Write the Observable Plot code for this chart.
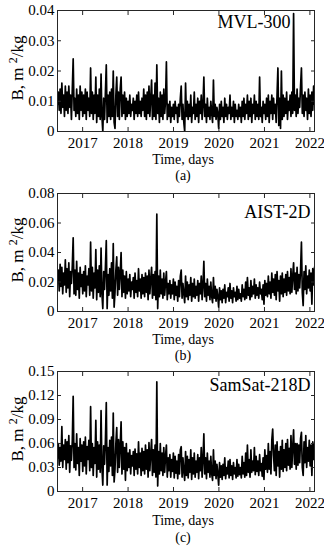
<!DOCTYPE html>
<html><head><meta charset="utf-8">
<script src="https://cdn.jsdelivr.net/npm/d3@7"></script>
<script src="https://cdn.jsdelivr.net/npm/@observablehq/plot@0.6"></script>
<style>
body{margin:0;background:#fff;width:324px;height:550px;position:relative;overflow:hidden;font-family:"Liberation Serif","Times New Roman",serif;color:#000}
.panel{position:absolute;left:0}
.lab{position:absolute;font-size:14px;white-space:nowrap;transform:translate(-50%,-50%);line-height:1}
.ylab{position:absolute;font-size:17px;white-space:nowrap;transform:translate(-50%,-50%) rotate(-90deg);line-height:1}
.ylab sup{font-size:12px;vertical-align:0.5em;line-height:0}
</style></head><body>
<script>
// sampling of the series (weekly values)
const startDate = "2016-06-13";
const stepDays = 7;
const xDomain = ["2016-06-13", "2022-02-07"];
const yearTicks = [2017, 2018, 2019, 2020, 2021, 2022];
const names = ["MVL-300", "AIST-2D", "SamSat-218D"];
const captions = ["(a)", "(b)", "(c)"];
const xLabel = "Time, days";
const yTicks1 = [0, 0.01, 0.02, 0.03, 0.04];
const yTicks2 = [0, 0.02, 0.04, 0.06, 0.08];
const yTicks3 = [0, 0.03, 0.06, 0.09, 0.12, 0.15];
// ballistic coefficient B, in units of 1e-3 m^2/kg
const mvl300 = [
9,13,7,14,6,16,8,12,5,15,
7,13,6,15,8,12,4,14,24,7,
11,5,14,6,12,4,15,7,13,5,
12,6,14,4,13,7,11,5,21,6,
13,4,12,6,18,3,12,5,14,4,
19,5,0,11,4,13,22,3,12,5,
13,4,14,5,20,3,1,12,18,5,
13,4,14,18,5,12,6,13,4,11,
5,10,6,12,5,9,7,11,4,10,
6,12,5,13,6,10,5,11,7,14,
5,12,4,13,6,15,5,11,17,4,
12,5,16,4,22,6,11,3,13,5,
12,4,14,6,10,23,4,9,5,10,
3,8,5,9,4,10,6,8,3,9,
5,11,15,4,9,3,0,16,5,10,
4,9,5,12,3,8,6,13,4,9,
5,11,3,10,6,12,4,9,18,5,
9,3,11,5,8,4,10,6,3,17,
5,9,4,8,6,1,9,4,10,5,
8,3,11,5,9,4,8,6,12,4,
8,5,10,3,9,5,7,4,9,5,
8,3,10,5,11,4,9,6,12,4,
10,5,11,3,9,6,12,4,10,5,
9,4,18,5,8,3,10,6,9,4,
11,5,12,3,10,6,12,4,11,6,
9,3,12,21,2,11,1,20,4,12,
5,11,6,13,4,10,7,12,5,13,
6,39,7,12,5,14,6,11,8,15,
21,6,12,5,13,7,11,4,14,6,
12,5,13,7,15,9];
const aist2d = [
20,28,14,32,17,30,12,26,18,35,
13,29,16,33,10,27,19,31,50,12,
28,11,34,15,26,9,30,17,25,12,
27,14,31,10,24,18,29,11,47,14,
30,9,26,16,42,8,28,13,31,10,
43,12,2,27,15,30,48,2,25,11,
29,14,33,9,46,3,13,28,37,11,
30,15,26,40,10,28,13,24,9,27,
12,22,14,25,10,20,15,23,9,26,
13,21,10,29,14,22,9,25,12,23,
10,26,13,24,8,28,12,22,30,9,
25,11,27,8,66,2,24,10,28,12,
22,9,26,11,20,27,8,19,12,21,
9,18,12,22,8,20,11,17,7,21,
10,24,28,9,19,12,6,24,10,20,
8,18,11,23,7,19,10,22,9,17,
11,21,7,19,12,24,8,18,34,10,
19,7,22,11,17,8,20,10,6,23,
9,17,7,15,10,3,16,8,14,6,
15,9,18,6,13,10,16,7,19,9,
14,6,16,10,13,7,17,8,15,9,
12,7,18,10,15,8,20,9,23,11,
16,8,21,10,17,12,22,9,18,11,
16,9,20,12,15,8,18,5,21,11,
19,10,24,12,20,9,26,13,22,11,
25,8,27,14,21,7,24,12,26,10,
22,13,25,11,27,14,23,12,29,13,
24,33,15,26,12,30,14,25,16,28,
47,13,4,27,15,31,12,24,16,28,
14,26,5,29,18,30];
const samsat218d = [
42,60,33,55,38,81,30,58,40,65,
28,62,36,70,24,57,39,63,119,30,
60,27,72,35,55,20,66,38,58,25,
62,32,68,22,56,40,64,26,106,30,
60,20,55,35,89,18,62,28,58,24,
101,30,8,57,34,63,111,8,55,25,
64,32,68,20,98,12,28,60,80,24,
65,30,58,87,22,62,28,55,14,60,
26,48,30,52,22,45,32,50,20,53,
28,47,22,62,30,48,20,54,26,50,
22,58,28,52,18,61,26,48,65,20,
52,24,58,18,137,7,50,22,60,26,
48,20,55,24,44,58,18,42,26,46,
18,40,25,48,17,44,23,38,16,46,
22,52,56,18,42,25,14,50,20,44,
17,40,24,52,15,42,22,48,18,38,
24,46,16,42,26,55,18,40,72,22,
42,16,48,24,38,18,44,22,14,52,
20,38,16,34,22,8,36,18,32,15,
34,20,42,16,30,22,38,17,40,20,
32,15,36,22,30,17,40,19,34,21,
30,17,44,22,36,18,48,20,58,24,
40,18,52,24,38,26,55,21,44,25,
38,20,46,26,35,19,42,15,52,28,
45,24,60,28,50,22,64,78,45,26,
58,20,62,32,50,18,56,28,64,25,
52,30,60,26,65,33,54,28,70,30,
56,77,34,60,28,60,33,58,36,66,
74,30,20,62,36,70,30,55,38,64,
32,58,20,62,40,60];

const series = [mvl300, aist2d, samsat218d];
const yTickSets = [yTicks1, yTicks2, yTicks3];

// layout
const layout = [
  {top: 0,   ph: 121, nameDx: -24, nameDy: 5,  ylabY: 68,  timeY: 160, capY: 176},
  {top: 183, ph: 118, nameDx: -4,  nameDy: 12, ylabY: 250, timeY: 340, capY: 356},
  {top: 361, ph: 120, nameDx: -4,  nameDy: 7,  ylabY: 429, timeY: 521, capY: 538}
];

const t0 = new Date(startDate + "T00:00:00Z");
const xd = xDomain.map(d => new Date(d + "T00:00:00Z"));
const xt = yearTicks.map(y => new Date(Date.UTC(y, 0, 1)));
const fmtY = d => d === 0 ? "0" : d.toFixed(2);

series.forEach((vals, k) => {
  const L = layout[k];
  const ticks = yTickSets[k];
  const data = vals.map((v, i) => ({date: new Date(+t0 + i * stepDays * 864e5), B: v / 1000}));
  const mb = 24;
  const chart = Plot.plot({
    width: 324, height: 10 + L.ph + mb,
    marginLeft: 57, marginRight: 10, marginTop: 10, marginBottom: mb,
    style: {fontFamily: '"Liberation Serif","Times New Roman",serif', fontSize: "15px", color: "#000", background: "transparent"},
    x: {type: "utc", domain: xd},
    y: {domain: [ticks[0], ticks[ticks.length - 1]]},
    marks: [
      Plot.lineY(data, {x: "date", y: "B", stroke: "#000", strokeWidth: 1.7, clip: true}),
      Plot.frame({stroke: "#262626"}),
      Plot.axisX({anchor: "bottom", ticks: xt, tickFormat: d => String(d.getUTCFullYear()), tickSize: -4, tickPadding: 10, label: null, stroke: "#262626"}),
      Plot.axisX({anchor: "top", ticks: xt, tickFormat: () => "", tickSize: -4, label: null, stroke: "#262626"}),
      Plot.axisY({anchor: "left", ticks: ticks, tickFormat: fmtY, tickSize: -4, tickPadding: 7, label: null, stroke: "#262626"}),
      Plot.axisY({anchor: "right", ticks: ticks, tickFormat: () => "", tickSize: -4, label: null, stroke: "#262626"}),
      Plot.text([names[k]], {frameAnchor: "top-right", textAnchor: "end", lineAnchor: "top", dx: L.nameDx, dy: L.nameDy, fontSize: 18, fill: "#000"})
    ]
  });
  const div = document.createElement("div");
  div.className = "panel";
  div.style.top = L.top + "px";
  div.appendChild(chart);
  document.body.appendChild(div);

  const yl = document.createElement("div");
  yl.className = "ylab";
  yl.style.left = "17px"; yl.style.top = L.ylabY + "px";
  yl.innerHTML = "B, m <sup>2</sup>/kg";
  document.body.appendChild(yl);

  const tl = document.createElement("div");
  tl.className = "lab";
  tl.style.left = "183px"; tl.style.top = L.timeY + "px";
  tl.textContent = xLabel;
  document.body.appendChild(tl);

  const cl = document.createElement("div");
  cl.className = "lab";
  cl.style.left = "183px"; cl.style.top = L.capY + "px";
  cl.textContent = captions[k];
  document.body.appendChild(cl);
});
</script>
</body></html>
